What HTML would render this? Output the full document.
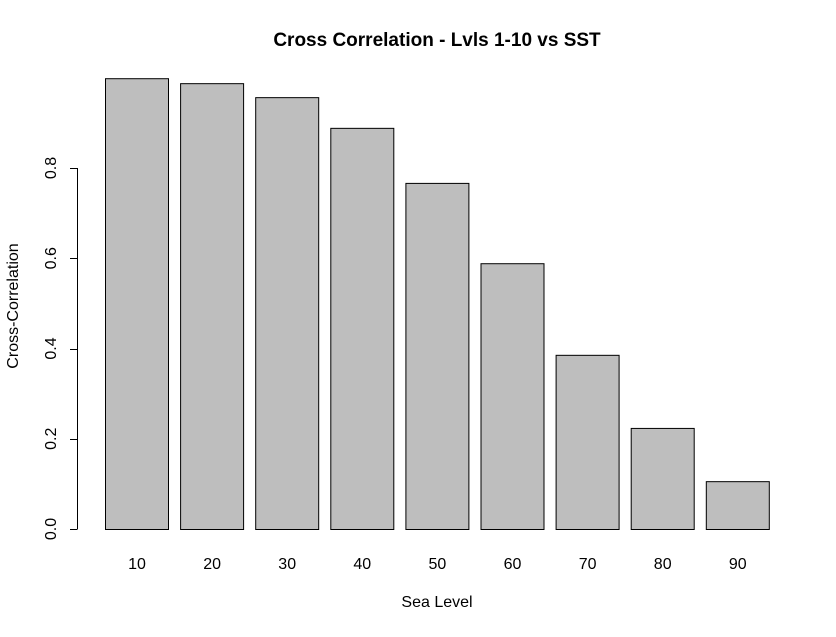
<!DOCTYPE html>
<html><head><meta charset="utf-8"><style>
body{margin:0;background:#fff;}
text{font-family:"Liberation Sans",Arial,sans-serif;fill:#000;}
</style></head><body>
<svg id="chart" width="836" height="632" xmlns="http://www.w3.org/2000/svg">
<rect width="836" height="632" fill="#fff"/>
<text x="437" y="46" font-size="19" font-weight="bold" text-anchor="middle">Cross Correlation - Lvls 1-10 vs SST</text>
<text x="437" y="607" font-size="16" text-anchor="middle">Sea Level</text>
<text transform="translate(18,306) rotate(-90)" font-size="16" text-anchor="middle">Cross-Correlation</text>
<g id="bars"></g><g id="yaxis"></g><g id="xlabels"></g>
</svg>
<script>
const categories = ["10","20","30","40","50","60","70","80","90"];
const values = [0.999, 0.988, 0.957, 0.889, 0.767, 0.589, 0.386, 0.224, 0.106];
const yTicks = [0, 0.2, 0.4, 0.6, 0.8];
const yTickLabels = ["0.0","0.2","0.4","0.6","0.8"];
const NS = "http://www.w3.org/2000/svg";
function y(v){ return 529 - v * 451.25; }
function xLeft(i){ return 105 + i * 75.1; }
const barW = 63;
function mk(tag, attrs, parent){ const e=document.createElementNS(NS,tag); for(const k in attrs) e.setAttribute(k,attrs[k]); parent.appendChild(e); return e; }
const gb=document.getElementById('bars'), gy=document.getElementById('yaxis'), gx=document.getElementById('xlabels');
values.forEach((v,i)=>{
  const r=mk('rect',{x:xLeft(i)+0.5,y:y(v)+0.5,width:barW,height:y(0)-y(v),fill:'#bebebe',stroke:'#000','stroke-width':1},gb);
  
  
  const t=mk('text',{x:xLeft(i)+barW/2+0.5,y:569,'font-size':16,'text-anchor':'middle'},gx);
  t.textContent=categories[i];
  
  
});
const ax=mk('line',{x1:77.5,x2:77.5,y1:y(yTicks[0]),y2:y(yTicks[yTicks.length-1]),stroke:'#000'},gy);


yTicks.forEach((v,i)=>{
  const l=mk('line',{x1:70,x2:77.5,y1:Math.round(y(v))+0.5,y2:Math.round(y(v))+0.5,stroke:'#000'},gy);
  
  
  const t=mk('text',{transform:'translate(56,'+y(v)+') rotate(-90)','font-size':16,'text-anchor':'middle'},gy);
  t.textContent=yTickLabels[i];
  
  
});
</script>
</body></html>
